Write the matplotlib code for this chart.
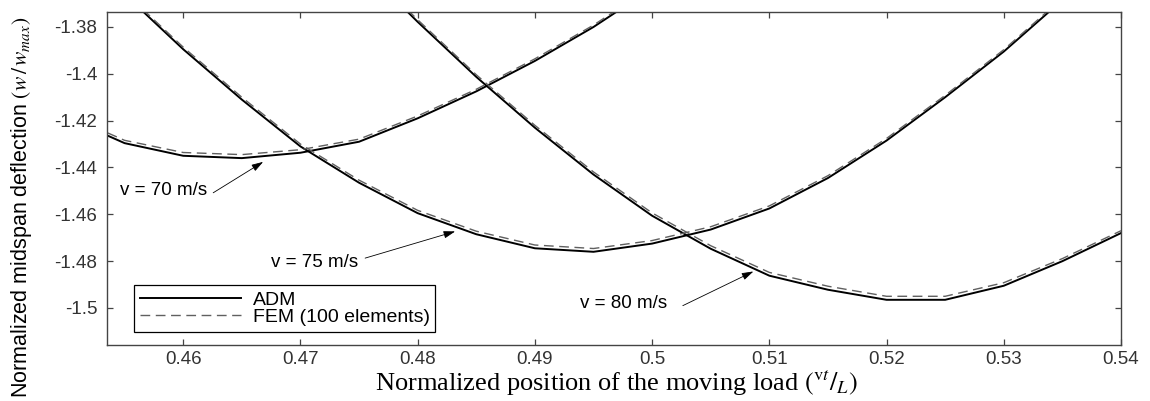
"""
Midspan deflection under a moving load: ADM vs FEM for three load speeds.
"""
import matplotlib
matplotlib.use('Agg')
import matplotlib.pyplot as plt

plt.rcParams['font.family'] = 'Liberation Sans'
plt.rcParams['mathtext.fontset'] = 'stix'

# --- data ---
x_70 = [0.450, 0.455, 0.460, 0.465, 0.470, 0.475, 0.480, 0.485, 0.490, 0.495, 0.500]
adm_70 = [-1.4185, -1.4296, -1.4350, -1.4360, -1.4337, -1.4290, -1.4190, -1.4075, -1.3945, -1.3800, -1.3635]
fem_70 = [-1.4174, -1.4284, -1.4336, -1.4345, -1.4324, -1.4279, -1.4180, -1.4066, -1.3936, -1.3792, -1.3628]

x_75 = [0.455, 0.460, 0.465, 0.470, 0.475, 0.480, 0.485, 0.490, 0.495,
        0.500, 0.505, 0.510, 0.515, 0.520, 0.525, 0.530, 0.535]
adm_75 = [-1.3660, -1.3895, -1.4110, -1.4310, -1.4465, -1.4595, -1.4685, -1.4745, -1.4760,
          -1.4725, -1.4665, -1.4575, -1.4445, -1.4285, -1.4100, -1.3905, -1.3685]
fem_75 = [-1.3652, -1.3886, -1.4100, -1.4300, -1.4454, -1.4583, -1.4672, -1.4731, -1.4746,
          -1.4712, -1.4653, -1.4564, -1.4435, -1.4276, -1.4092, -1.3897, -1.3677]

x_80 = [0.475, 0.480, 0.485, 0.490, 0.495, 0.500, 0.505, 0.510,
        0.515, 0.520, 0.525, 0.530, 0.535, 0.540]
adm_80 = [-1.3530, -1.3778, -1.4013, -1.4230, -1.4430, -1.4606, -1.4747, -1.4862,
          -1.4922, -1.4965, -1.4965, -1.4905, -1.4800, -1.4680]
fem_80 = [-1.3522, -1.3769, -1.4004, -1.4220, -1.4419, -1.4594, -1.4734, -1.4848,
          -1.4907, -1.4950, -1.4950, -1.4892, -1.4789, -1.4670]

xticks = [0.46, 0.47, 0.48, 0.49, 0.50, 0.51, 0.52, 0.53, 0.54]
xticklabels = ['0.46', '0.47', '0.48', '0.49', '0.5', '0.51', '0.52', '0.53', '0.54']
yticks = [-1.38, -1.40, -1.42, -1.44, -1.46, -1.48, -1.50]
yticklabels = ['-1.38', '-1.4', '-1.42', '-1.44', '-1.46', '-1.48', '-1.5']

# (label, text anchor (right, centre), arrow tail, arrow head)
notes = [
    ('v = 70 m/s', (0.46205, -1.4500), (0.46256, -1.4508), (0.46682, -1.4376)),
    ('v = 75 m/s', (0.47493, -1.4807), (0.47552, -1.4787), (0.48320, -1.4673)),
    ('v = 80 m/s', (0.50128, -1.4982), (0.50262, -1.4990), (0.50864, -1.4844)),
]

fig = plt.figure(figsize=(11.5, 4.01), dpi=100)
ax = fig.add_axes([107 / 1150, 56 / 401, 1014 / 1150, 333 / 401])

fem_kw = dict(color='#606060', lw=1.0, dashes=(7, 4))
adm_kw = dict(color='black', lw=1.4)
ax.plot(x_70, adm_70, **adm_kw, label='ADM')
ax.plot(x_75, adm_75, **adm_kw)
ax.plot(x_80, adm_80, **adm_kw)
ax.plot(x_70, fem_70, **fem_kw, label='FEM (100 elements)')
ax.plot(x_75, fem_75, **fem_kw)
ax.plot(x_80, fem_80, **fem_kw)

for label, txt, tail, head in notes:
    ax.text(txt[0], txt[1], label, ha='right', va='center', fontsize=13.5)
    ax.annotate('', xy=head, xytext=tail,
                arrowprops=dict(arrowstyle='-|>,head_length=0.7,head_width=0.22',
                                color='black', lw=0.6, shrinkA=0, shrinkB=0))

ax.set_xlim(0.4535, 0.54)
ax.set_ylim(-1.5158, -1.3736)
ax.set_xticks(xticks)
ax.set_xticklabels(xticklabels)
ax.set_yticks(yticks)
ax.set_yticklabels(yticklabels)
ax.tick_params(direction='in', length=4, width=0.9, colors='#444444',
               top=True, right=True, labelsize=13.5)
ax.tick_params(axis='x', pad=4, labelcolor='#333333')
ax.tick_params(axis='y', pad=7, labelcolor='#333333')
for sp in ax.spines.values():
    sp.set_color('#444444')
    sp.set_linewidth(1.0)

leg = ax.legend(loc='lower left', bbox_to_anchor=(0.0266, 0.039), borderaxespad=0,
                fontsize=14, handlelength=5.2, handletextpad=0.6, labelspacing=0.0,
                borderpad=0.3, fancybox=False, framealpha=1, edgecolor='black')
leg.get_frame().set_linewidth(0.9)

fig.text(22 / 1150, 1 - 207 / 401,
         r'Normalized midspan deflection $(w\,/\,w_{max})$',
         rotation=90, ha='center', va='center', fontsize=15.5)
fig.text(616 / 1150, 1 - 391 / 401,
         r'Normalized position of the moving load $({}^{\mathrm{v}t}/_{L})$',
         ha='center', va='baseline', fontsize=19, family='Liberation Serif')

fig.savefig('out.png', dpi=100)
